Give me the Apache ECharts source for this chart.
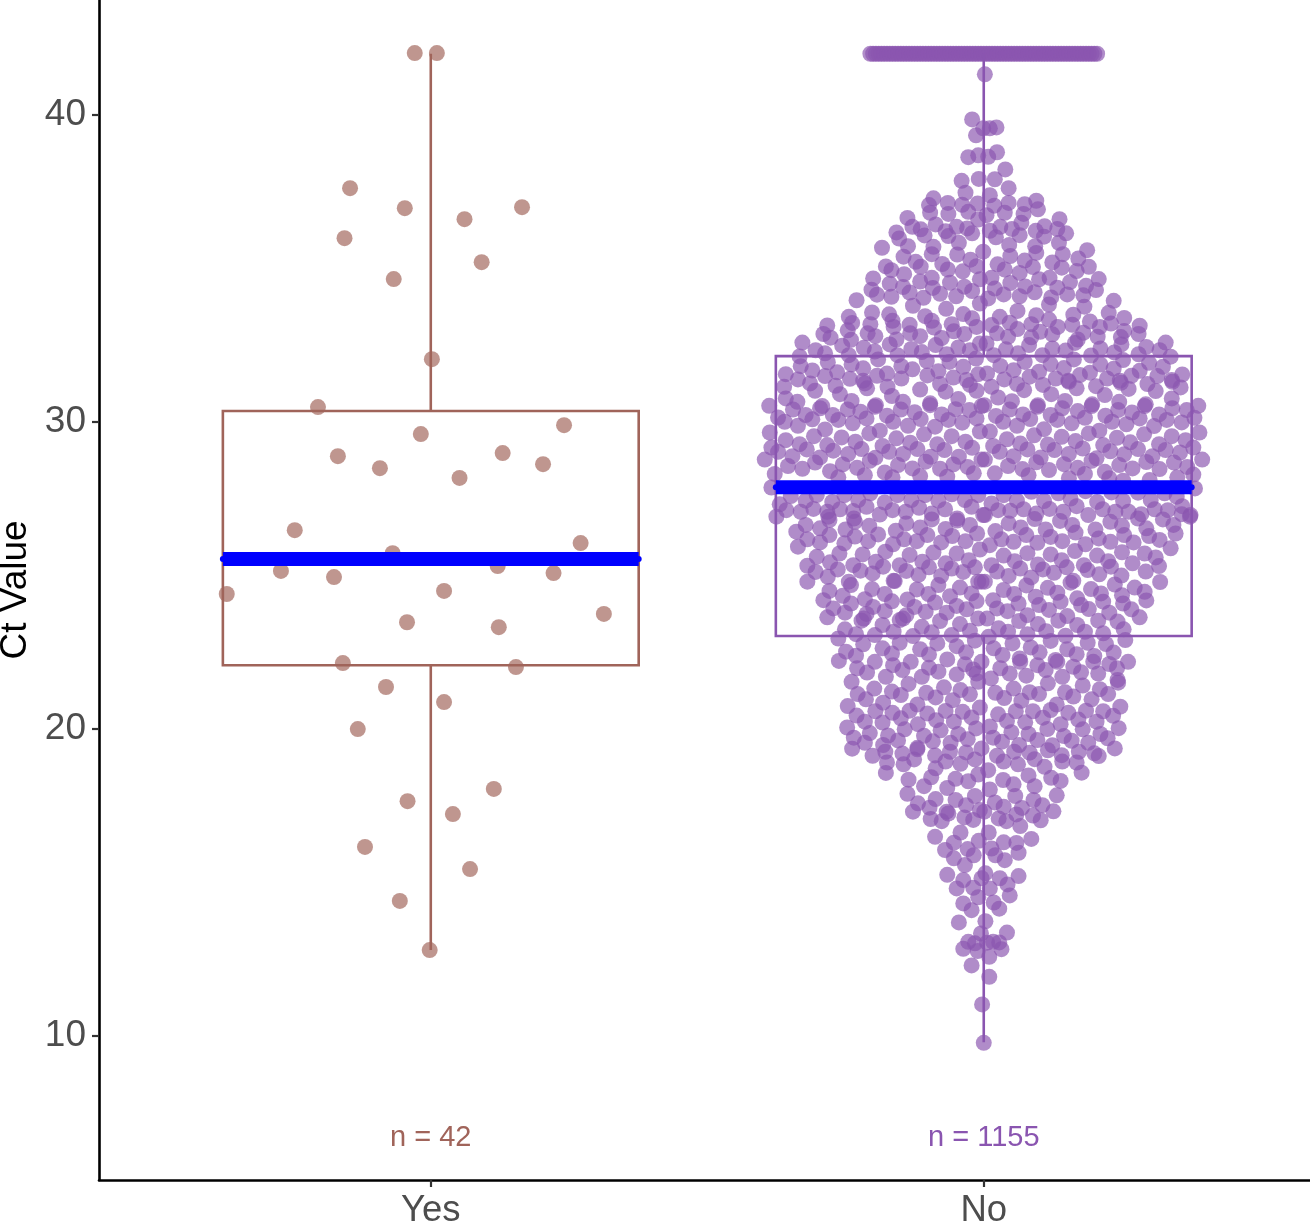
<!DOCTYPE html>
<html><head><meta charset="utf-8">
<style>html,body{margin:0;padding:0;background:#fff}#c{width:1310px;height:1223px}</style>
<script src="https://cdn.jsdelivr.net/npm/echarts@6/dist/echarts.min.js"></script>
</head><body><div id="c"></div>
<script>
const categories = ['Yes','No'];
const categoryPos = [1,2];
const nLabels = ['n = 42','n = 1155'];
const nLabelCt = 6.67;
const yTicks = [10,20,30,40];
const q1 = [22.08,23.03];
const medians = [25.54,27.88];
const q3 = [30.36,32.15];
const whiskerLow = [12.8,9.8];
const whiskerHigh = [42,42];
const yesPoints = [[.971,42.02],[1.011,42.02],[.854,37.62],[.953,36.97],[1.061,36.61],[1.165,37.0],[.844,35.99],[1.092,35.21],[.933,34.66],[1.002,32.05],[.796,30.49],[.982,29.61],[1.241,29.9],[.832,28.89],[.908,28.5],[1.13,28.99],[1.203,28.63],[1.052,28.18],[.754,26.48],[1.271,26.06],[.931,25.73],[.729,25.15],[1.121,25.31],[.825,24.95],[1.222,25.08],[.631,24.4],[1.024,24.5],[1.313,23.75],[.957,23.48],[1.123,23.32],[.841,22.15],[1.154,22.02],[.919,21.37],[1.024,20.88],[.868,20.0],[1.114,18.05],[.958,17.65],[1.04,17.23],[.881,16.16],[1.071,15.44],[.944,14.4],[.998,12.8]];
const noCappedX = [1.795,1.8,1.805,1.81,1.815,1.82,1.825,1.83,1.835,1.84,1.845,1.85,1.855,1.86,1.865,1.87,1.875,1.88,1.885,1.89,1.895,1.9,1.905,1.91,1.915,1.92,1.925,1.93,1.935,1.94,1.945,1.95,1.955,1.96,1.965,1.97,1.975,1.98,1.985,1.99,1.995,2.0,2.005,2.01,2.015,2.02,2.025,2.03,2.035,2.04,2.045,2.05,2.055,2.06,2.065,2.07,2.075,2.08,2.085,2.09,2.095,2.1,2.105,2.11,2.115,2.12,2.125,2.13,2.135,2.14,2.145,2.15,2.155,2.16,2.165,2.17,2.175,2.18,2.185,2.19,2.195,2.2,2.205];
const noTop = [[2.002,41.33],[1.979,39.86],[1.999,39.57],[2.011,39.57],[2.023,39.6],[1.986,39.34],[1.972,38.63],[1.99,38.69],[2.008,38.64],[2.024,38.79],[2.039,38.23],[1.96,37.86],[1.991,37.92],[2.02,37.91],[2.045,37.62]];
const noUpperLeft = [[1.909,37.29],[1.901,37.07],[1.903,36.82],[1.935,37.14],[1.936,36.78],[1.961,37.08],[1.972,36.85],[1.989,37.12],[1.967,37.47],[1.99,36.6],[1.862,36.65],[1.871,36.36],[1.886,36.28],[1.893,36.08],[1.913,36.44],[1.931,36.22],[1.936,36.06],[1.951,36.36],[1.97,36.31],[1.979,36.15],[1.842,36.18],[1.847,35.98],[1.863,35.73],[1.816,35.68],[1.909,35.71],[1.906,35.47],[1.955,35.84],[1.952,35.46],[1.855,35.39],[1.877,35.22],[1.886,35.06],[1.976,35.29],[1.987,35.08],[1.999,35.55],[1.823,35.07],[1.833,34.95],[1.925,35.15],[1.935,34.97],[1.962,34.91],[1.856,34.82],[1.8,34.68],[1.885,34.58],[1.906,34.7],[1.939,34.54],[1.993,34.65],[1.83,34.51],[1.854,34.4],[1.908,34.37],[1.965,34.41],[1.979,34.27],[1.797,34.31],[1.807,34.15],[1.866,34.22],[1.921,34.18],[1.95,34.1],[1.833,34.08],[1.891,34.05],[1.77,33.97],[1.872,33.79],[1.993,33.86],[1.932,33.69],[1.798,33.57],[1.829,33.51],[1.756,33.43],[1.894,33.45],[1.963,33.52],[1.979,33.38],[1.762,33.23],[1.835,33.3],[1.906,33.3],[1.795,33.19],[1.837,33.1],[1.717,33.15],[1.866,33.17],[1.942,33.19],[1.91,33.08],[1.987,33.1],[1.754,32.99],[1.71,32.87],[1.723,32.75],[1.79,32.89],[1.804,32.8],[1.867,32.89],[1.946,32.96],[1.965,32.87],[1.76,32.68],[1.885,32.8],[1.842,32.69],[1.924,32.74],[1.83,32.53],[1.672,32.59],[1.744,32.49],[1.913,32.51],[1.993,32.56],[1.783,32.42],[1.803,32.3],[1.696,32.34],[1.713,32.24],[1.869,32.38],[1.954,32.43],[1.975,32.34],[1.888,32.28],[1.667,32.14],[1.756,32.18],[1.844,32.18],[1.933,32.21],[1.809,32.04],[1.897,31.99],[1.986,32.07],[1.718,31.95],[1.761,31.88],[1.938,31.96],[1.851,31.82],[1.669,31.82],[1.69,31.68],[1.782,31.75],[1.871,31.72],[1.963,31.8],[1.735,31.62],[1.918,31.66],[1.642,31.56],[1.825,31.58],[1.807,31.51],[1.713,31.5],[1.898,31.52],[1.99,31.56],[1.664,31.39],[1.758,31.41],[1.945,31.45],[1.851,31.42],[1.782,31.35],[1.969,31.37]];
const noUpperRight = [[2.011,37.39],[2.019,37.05],[2.045,37.14],[2.038,36.82],[2.074,37.1],[2.095,37.21],[2.098,36.93],[2.072,36.78],[2.005,36.74],[2.068,36.49],[2.03,36.36],[2.051,36.29],[2.065,36.09],[2.011,36.23],[2.022,36.02],[2.137,36.61],[2.11,36.38],[2.094,36.23],[2.133,36.29],[2.149,36.15],[2.109,36.04],[2.136,35.84],[2.046,35.77],[2.093,35.73],[2.095,35.51],[2.048,35.41],[2.143,35.47],[2.187,35.6],[2.171,35.33],[2.074,35.26],[2.124,35.2],[2.025,35.14],[2.089,35.05],[2.141,35.03],[2.038,34.97],[2.19,35.06],[2.065,34.86],[2.168,34.92],[2.014,34.7],[2.119,34.7],[2.1,34.65],[2.208,34.66],[2.156,34.56],[2.048,34.53],[2.185,34.44],[2.133,34.38],[2.075,34.42],[2.203,34.3],[2.02,34.35],[2.092,34.23],[2.18,34.13],[2.151,34.16],[2.036,34.16],[2.065,34.1],[2.122,34.06],[2.008,34.03],[2.118,33.83],[2.235,33.95],[2.182,33.76],[2.061,33.62],[2.029,33.43],[2.095,33.48],[2.226,33.56],[2.254,33.39],[2.162,33.5],[2.118,33.34],[2.192,33.28],[2.047,33.24],[2.086,33.19],[2.23,33.21],[2.014,33.16],[2.16,33.17],[2.134,33.1],[2.21,33.1],[2.282,33.14],[2.061,33.03],[2.102,32.94],[2.18,32.91],[2.024,32.89],[2.254,32.97],[2.28,32.87],[2.044,32.78],[2.124,32.86],[2.206,32.78],[2.248,32.77],[2.17,32.69],[2.086,32.76],[2.249,32.53],[2.005,32.56],[2.082,32.51],[2.165,32.58],[2.329,32.59],[2.294,32.45],[2.04,32.37],[2.124,32.4],[2.211,32.4],[2.148,32.33],[2.062,32.24],[2.236,32.27],[2.318,32.34],[2.106,32.18],[2.194,32.17],[2.28,32.21],[2.338,32.13],[2.018,32.18],[2.163,32.04],[2.074,31.96],[2.252,32.02],[2.03,31.83],[2.121,31.89],[2.211,31.88],[2.299,31.93],[2.145,31.76],[2.054,31.69],[2.235,31.74],[2.324,31.8],[2.1,31.64],[2.192,31.61],[2.006,31.58],[2.282,31.67],[2.083,31.48],[2.174,31.53],[2.359,31.55],[2.037,31.39],[2.267,31.51],[2.314,31.5],[2.13,31.42],[2.223,31.42],[2.153,31.35],[2.246,31.35],[2.34,31.37]];
const noMidLeft = [[1.639,31.15],[1.686,31.26],[1.695,31.02],[1.732,31.18],[1.74,30.91],[1.785,31.26],[1.789,31.1],[1.826,31.15],[1.834,30.85],[1.885,31.06],[1.921,31.24],[1.931,30.99],[1.975,31.21],[1.987,31.02],[1.642,30.77],[1.663,30.66],[1.655,30.41],[1.708,30.52],[1.704,30.45],[1.761,30.69],[1.754,30.41],[1.805,30.55],[1.803,30.5],[1.854,30.66],[1.85,30.41],[1.903,30.55],[1.903,30.61],[1.954,30.75],[1.949,30.42],[1.996,30.52],[1.612,30.53],[1.628,30.15],[1.64,30.01],[1.678,30.23],[1.69,30.09],[1.664,29.88],[1.727,30.23],[1.737,30.07],[1.777,30.34],[1.788,30.12],[1.825,30.21],[1.836,30.01],[1.875,30.32],[1.886,30.1],[1.924,30.25],[1.936,30.07],[1.974,30.39],[1.987,30.12],[1.763,29.96],[1.863,29.88],[1.912,29.85],[1.961,29.98],[1.613,29.66],[1.713,29.76],[1.693,29.54],[1.642,29.41],[1.743,29.5],[1.793,29.63],[1.812,29.72],[1.842,29.47],[1.892,29.6],[1.942,29.54],[1.993,29.69],[1.667,29.28],[1.68,29.11],[1.717,29.25],[1.728,29.07],[1.768,29.36],[1.779,29.12],[1.817,29.22],[1.829,29.03],[1.867,29.33],[1.88,29.12],[1.916,29.28],[1.929,29.09],[1.967,29.36],[1.979,29.16],[1.616,29.17],[1.628,29.03],[1.654,28.89],[1.604,28.78],[1.646,28.57],[1.704,28.85],[1.695,28.68],[1.755,28.96],[1.745,28.62],[1.804,28.84],[1.794,28.74],[1.854,28.96],[1.845,28.6],[1.904,28.87],[1.895,28.71],[1.955,28.87],[1.945,28.62],[1.996,28.78],[1.672,28.48],[1.722,28.4],[1.771,28.51],[1.821,28.36],[1.871,28.49],[1.921,28.48],[1.971,28.54],[1.622,28.31],[1.737,28.2],[1.785,28.27],[1.835,28.2],[1.885,28.24],[1.934,28.22],[1.982,28.33],[1.616,27.87],[1.651,27.59],[1.698,27.62],[1.748,27.62],[1.795,27.68],[1.844,27.62],[1.894,27.62],[1.942,27.65],[1.99,27.62],[1.631,27.32],[1.678,27.44],[1.726,27.4],[1.773,27.46],[1.821,27.38],[1.869,27.46],[1.918,27.44],[1.966,27.46],[1.643,27.13],[1.692,27.17],[1.74,27.16],[1.788,27.24],[1.835,27.13],[1.883,27.21],[1.93,27.16],[1.978,27.24],[1.669,27.08],[1.717,27.08],[1.764,27.1],[1.812,26.99],[1.859,27.08],[1.906,27.02],[1.952,26.86],[1.999,26.97],[1.625,26.92],[1.719,26.92],[1.765,26.86]];
const noMidRight = [[2.014,31.15],[2.06,31.24],[2.073,31.04],[2.107,31.21],[2.122,30.91],[2.154,31.31],[2.168,31.1],[2.203,31.17],[2.219,30.88],[2.248,31.28],[2.262,31.08],[2.296,31.24],[2.311,31.01],[2.341,31.31],[2.356,31.13],[2.026,30.8],[2.051,30.68],[2.047,30.41],[2.001,30.55],[2.098,30.55],[2.097,30.5],[2.147,30.69],[2.142,30.45],[2.196,30.58],[2.195,30.52],[2.245,30.66],[2.243,30.39],[2.293,30.58],[2.291,30.52],[2.34,30.77],[2.341,30.45],[2.388,30.53],[2.367,30.39],[2.022,30.2],[2.035,30.01],[2.071,30.25],[2.084,30.1],[2.06,29.88],[2.121,30.23],[2.133,30.07],[2.17,30.36],[2.183,30.14],[2.159,29.96],[2.22,30.21],[2.232,30.01],[2.268,30.31],[2.282,30.12],[2.258,29.93],[2.317,30.25],[2.331,30.07],[2.308,29.87],[2.358,29.99],[2.381,30.14],[2.011,29.69],[2.109,29.77],[2.091,29.57],[2.042,29.44],[2.141,29.52],[2.19,29.63],[2.209,29.72],[2.241,29.49],[2.29,29.6],[2.34,29.54],[2.39,29.66],[2.365,29.41],[2.017,29.22],[2.029,29.03],[2.066,29.3],[2.079,29.11],[2.116,29.27],[2.128,29.09],[2.166,29.38],[2.179,29.14],[2.216,29.25],[2.229,29.05],[2.265,29.34],[2.279,29.12],[2.317,29.28],[2.329,29.09],[2.355,29.01],[2.379,29.17],[2.054,28.89],[2.044,28.57],[2.103,28.85],[2.095,28.69],[2.154,28.96],[2.145,28.63],[2.204,28.82],[2.195,28.74],[2.254,28.95],[2.245,28.6],[2.305,28.89],[2.294,28.7],[2.344,28.68],[2.395,28.78],[2.002,28.78],[2.07,28.47],[2.118,28.44],[2.17,28.51],[2.219,28.38],[2.269,28.49],[2.318,28.47],[2.368,28.54],[2.02,28.33],[2.081,28.27],[2.154,28.17],[2.183,28.31],[2.227,28.17],[2.252,28.09],[2.3,28.11],[2.35,28.2],[2.379,28.29],[2.382,27.84],[2.036,27.62],[2.086,27.73],[2.135,27.68],[2.184,27.75],[2.231,27.71],[2.279,27.7],[2.327,27.68],[2.014,27.35],[2.06,27.44],[2.109,27.43],[2.157,27.51],[2.205,27.4],[2.252,27.43],[2.302,27.46],[2.349,27.57],[2.359,27.26],[2.026,27.13],[2.048,27.11],[2.072,27.16],[2.119,27.17],[2.168,27.26],[2.215,27.16],[2.262,27.08],[2.309,27.16],[2.333,27.13],[2.374,26.97],[2.002,26.97],[2.095,27.02],[2.144,27.08],[2.189,26.97],[2.238,27.08],[2.285,27.0],[2.358,27.0]];
const noLowMidLeft = [[1.678,26.65],[1.661,26.43],[1.704,26.54],[1.721,26.81],[1.721,26.32],[1.681,26.18],[1.704,26.08],[1.664,25.94],[1.767,26.75],[1.75,26.5],[1.767,26.27],[1.793,26.62],[1.809,26.34],[1.791,26.12],[1.748,26.05],[1.739,25.72],[1.86,26.7],[1.841,26.46],[1.856,26.18],[1.885,26.57],[1.898,26.32],[1.879,26.12],[1.836,26.02],[1.822,25.78],[1.906,26.83],[1.952,26.79],[1.931,26.52],[1.943,26.29],[1.975,26.65],[1.988,26.37],[1.967,26.12],[1.923,26.08],[1.909,25.75],[1.951,25.72],[1.993,25.85],[1.866,25.67],[1.781,25.69],[1.698,25.61],[1.722,25.43],[1.681,25.32],[1.696,25.12],[1.736,25.2],[1.718,24.96],[1.681,24.8],[1.764,25.34],[1.777,25.16],[1.805,25.45],[1.818,25.29],[1.799,25.07],[1.76,24.69],[1.756,24.8],[1.848,25.34],[1.86,25.15],[1.882,25.02],[1.889,25.45],[1.901,25.27],[1.839,24.82],[1.837,24.83],[1.931,25.4],[1.942,25.23],[1.963,25.12],[1.973,25.5],[1.984,25.27],[1.923,24.99],[1.918,24.69],[1.996,24.8],[1.99,24.8],[1.721,24.5],[1.71,24.2],[1.745,24.34],[1.76,24.09],[1.749,23.79],[1.728,23.93],[1.717,23.64],[1.798,24.56],[1.785,24.23],[1.821,24.4],[1.834,24.16],[1.8,23.98],[1.821,23.84],[1.788,23.75],[1.779,23.53],[1.783,23.6],[1.879,24.55],[1.862,24.22],[1.9,24.4],[1.912,24.12],[1.875,23.98],[1.895,23.82],[1.86,23.71],[1.848,23.55],[1.854,23.6],[1.957,24.61],[1.939,24.33],[1.978,24.42],[1.987,24.17],[1.951,24.01],[1.969,23.9],[1.933,23.79],[1.921,23.52],[1.99,23.6],[1.817,23.39],[1.749,23.25],[1.737,22.95],[1.769,23.09],[1.803,23.06],[1.837,23.17],[1.888,23.33],[1.906,23.15],[1.957,23.42],[1.975,23.2],[1.872,23.03],[1.942,23.06],[1.848,22.81],[1.782,22.76],[1.916,22.79],[1.984,22.88],[1.751,22.52],[1.769,22.39],[1.817,22.63],[1.834,22.46],[1.738,22.22],[1.803,22.19],[1.885,22.6],[1.901,22.43],[1.951,22.7],[1.968,22.5],[1.868,22.19],[1.934,22.27],[1.771,21.98],[1.836,22.08],[1.901,22.0],[1.789,21.84],[1.853,21.92],[1.918,21.87],[1.966,22.11],[1.981,21.94],[1.996,22.19],[1.823,21.7],[1.888,21.7],[1.951,21.78],[1.987,21.81]];
const noLowMidRight = [[2.045,26.7],[2.067,26.57],[2.077,26.32],[2.021,26.45],[2.032,26.18],[2.054,26.1],[2.097,26.07],[2.092,26.84],[2.138,26.78],[2.112,26.5],[2.121,26.26],[2.142,26.12],[2.16,26.65],[2.166,26.4],[2.202,26.5],[2.208,26.21],[2.229,26.75],[2.25,26.62],[2.254,26.32],[2.229,26.1],[2.184,26.02],[2.165,25.8],[2.271,26.08],[2.279,26.86],[2.294,26.54],[2.299,26.29],[2.324,26.83],[2.343,26.65],[2.347,26.37],[2.318,26.16],[2.338,25.89],[2.373,26.92],[2.291,25.72],[2.311,25.59],[2.317,25.31],[2.319,24.79],[2.293,25.13],[2.269,25.4],[2.25,25.76],[2.205,25.65],[2.225,25.47],[2.23,25.29],[2.181,25.34],[2.188,25.18],[2.209,25.04],[2.249,25.0],[2.237,24.71],[2.273,24.61],[2.291,24.47],[2.294,24.19],[2.25,24.36],[2.252,24.09],[2.267,23.9],[2.282,23.64],[2.011,25.99],[2.036,25.65],[2.079,25.73],[2.121,25.69],[2.141,25.5],[2.15,25.27],[2.014,25.34],[2.024,25.13],[2.056,25.47],[2.066,25.23],[2.098,25.36],[2.107,25.2],[2.127,25.09],[2.045,24.99],[2.086,24.94],[2.077,24.68],[2.002,24.8],[2.036,24.53],[2.055,24.4],[2.063,24.09],[2.017,24.2],[2.024,23.93],[2.043,23.84],[2.094,24.31],[2.1,24.04],[2.116,24.6],[2.133,24.44],[2.139,24.15],[2.118,23.88],[2.157,24.77],[2.162,24.83],[2.194,24.56],[2.212,24.42],[2.216,24.15],[2.169,24.26],[2.176,24.04],[2.19,23.91],[2.227,23.79],[2.207,23.53],[2.242,23.5],[2.079,23.71],[2.064,23.52],[2.098,23.42],[2.151,23.68],[2.135,23.53],[2.169,23.39],[2.113,23.19],[2.148,23.04],[2.183,23.17],[2.216,23.12],[2.253,23.25],[2.256,22.9],[2.006,23.6],[2.027,23.28],[2.044,23.17],[2.079,23.09],[2.009,23.01],[2.052,22.79],[2.121,22.87],[2.188,22.81],[2.221,22.77],[2.235,22.49],[2.018,22.63],[2.034,22.41],[2.085,22.66],[2.101,22.5],[2.151,22.6],[2.168,22.44],[2.2,22.38],[2.198,22.19],[2.065,22.3],[2.066,22.19],[2.13,22.25],[2.133,22.19],[2.03,21.98],[2.047,21.81],[2.097,22.08],[2.112,21.92],[2.162,22.03],[2.176,21.85],[2.227,22.12],[2.241,21.98],[2.261,22.19],[2.207,21.81],[2.077,21.74],[2.142,21.7],[2.013,21.65],[2.242,21.6]];
const noLowerLeft = [[1.761,21.54],[1.802,21.32],[1.864,21.47],[1.834,21.22],[1.85,21.11],[1.928,21.36],[1.896,21.18],[1.913,21.03],[1.975,21.13],[1.958,21.27],[1.99,21.54],[1.772,21.14],[1.787,20.97],[1.944,20.94],[1.754,20.75],[1.818,20.86],[1.804,20.58],[1.88,20.8],[1.866,20.6],[1.835,20.53],[1.931,20.59],[1.962,20.56],[1.898,20.51],[1.993,20.7],[1.77,20.44],[1.785,20.24],[1.85,20.35],[1.914,20.29],[1.978,20.38],[1.817,20.21],[1.881,20.16],[1.946,20.24],[1.753,20.05],[1.857,19.99],[1.922,19.96],[1.986,20.02],[1.794,19.87],[1.954,19.84],[1.765,19.72],[1.827,19.79],[1.892,19.78],[1.971,19.67],[1.845,19.63],[1.908,19.6],[1.785,19.55],[1.94,19.55],[1.818,19.48],[1.762,19.36],[1.88,19.39],[1.88,19.34],[1.996,19.37],[1.822,19.26],[1.939,19.26],[1.968,19.24],[1.799,19.13],[1.853,19.2],[1.912,19.14],[1.874,19.01],[1.931,18.94],[1.984,19.01],[1.825,18.91],[1.855,18.85],[1.958,18.87],[1.913,18.72],[1.823,18.57],[1.905,18.43],[1.99,18.52],[1.864,18.35],[1.949,18.38],[1.972,18.3],[1.892,18.14],[1.934,18.08],[1.862,17.89],[1.913,17.72],[1.984,17.82],[1.949,17.69],[1.881,17.58],[1.902,17.44],[1.968,17.52],[1.872,17.31],[1.936,17.25],[1.933,17.31],[1.965,17.12],[1.904,17.07],[1.924,17.0],[1.981,17.04],[1.993,17.36],[1.958,16.63],[1.912,16.49],[1.991,16.36],[1.946,16.3],[1.93,16.06],[1.971,16.09],[1.982,15.89],[1.946,15.79]];
const noLowerRight = [[2.116,21.49],[2.243,21.51],[2.054,21.32],[2.179,21.42],[2.021,21.18],[2.037,21.01],[2.083,21.2],[2.1,21.14],[2.147,21.2],[2.162,21.06],[2.21,21.3],[2.225,21.14],[2.195,20.97],[2.068,20.92],[2.247,20.73],[2.132,20.8],[2.121,20.62],[2.089,20.58],[2.058,20.58],[2.026,20.48],[2.153,20.53],[2.185,20.6],[2.216,20.58],[2.234,20.43],[2.042,20.26],[2.107,20.37],[2.171,20.31],[2.204,20.24],[2.075,20.22],[2.139,20.16],[2.115,20.0],[2.244,20.03],[2.05,19.9],[2.179,19.99],[2.011,20.08],[2.081,19.84],[2.211,19.84],[2.017,19.72],[2.033,19.59],[2.097,19.64],[2.145,19.77],[2.159,19.62],[2.224,19.7],[2.189,19.55],[2.064,19.48],[2.124,19.47],[2.116,19.31],[2.237,19.37],[2.172,19.26],[2.055,19.26],[2.083,19.23],[2.024,19.13],[2.141,19.15],[2.2,19.21],[2.208,19.12],[2.036,18.94],[2.092,19.02],[2.062,18.85],[2.142,18.94],[2.168,18.91],[2.11,18.77],[2.177,18.58],[2.008,18.66],[2.081,18.49],[2.122,18.41],[2.139,18.31],[2.035,18.34],[2.054,18.2],[2.092,18.14],[2.011,18.03],[2.057,17.82],[2.132,17.84],[2.09,17.69],[2.02,17.61],[2.106,17.52],[2.036,17.47],[2.069,17.43],[2.001,17.31],[2.059,17.22],[2.126,17.32],[2.089,17.18],[2.103,17.03],[2.027,17.09],[2.041,17.0],[2.066,16.84],[2.009,16.63],[2.086,16.42],[2.036,16.31],[2.059,16.29],[2.014,16.11],[2.063,15.97],[2.021,15.89],[2.038,15.73]];
const noTail = [[1.966,15.57],[1.934,15.25],[1.963,15.08],[2.003,15.3],[1.996,15.14],[2.029,15.14],[2.063,15.21],[2.043,14.94],[1.951,14.81],[1.981,14.83],[2.011,14.81],[2.047,14.58],[1.99,14.52],[1.963,14.32],[2.018,14.35],[1.978,14.1],[2.028,14.15],[1.955,13.7],[2.003,13.74],[1.995,13.34],[2.042,13.37],[1.972,13.07],[1.984,13.02],[2.006,13.04],[2.017,13.07],[2.028,13.05],[1.963,12.84],[1.989,12.77],[2.01,12.58],[2.032,12.83],[1.978,12.3],[2.01,11.93],[1.997,11.03],[2.0,9.78]];

const CAP_CT = 42;
const noPoints = noCappedX.map(x=>[x,CAP_CT]).concat(noTop,noUpperLeft,noUpperRight,noMidLeft,noMidRight,noLowMidLeft,noLowMidRight,noLowerLeft,noLowerRight,noTail);
const colors = ['#A0645A','#8A55B0'];
const BOX_HALF = 0.376;
const FONT = '"Liberation Sans", Arial, sans-serif';

const chart = echarts.init(document.getElementById('c'),null,{renderer:'canvas'});
const boxData = categoryPos.map((p,i)=>[p,q1[i],medians[i],q3[i],whiskerLow[i],whiskerHigh[i],i]);
function renderBox(params,api){
  const x=api.value(0),a=api.value(1),m=api.value(2),b=api.value(3),lo=api.value(4),hi=api.value(5),i=api.value(6);
  const L=api.coord([x-BOX_HALF,a]),R=api.coord([x+BOX_HALF,b]),c1=api.coord([x,lo]),c2=api.coord([x,a]),c3=api.coord([x,b]),c4=api.coord([x,hi]);
  const mL=api.coord([x-BOX_HALF,m]),mR=api.coord([x+BOX_HALF,m]);
  const st={stroke:colors[i],lineWidth:2.6,fill:null};
  const blue={fill:'#0000FF'};
  return {type:'group',children:[
    {type:'rect',shape:{x:L[0],y:R[1],width:R[0]-L[0],height:L[1]-R[1]},style:st},
    {type:'line',shape:{x1:c1[0],y1:c1[1],x2:c2[0],y2:c2[1]},style:st},
    {type:'line',shape:{x1:c3[0],y1:c3[1],x2:c4[0],y2:c4[1]},style:st},
    {type:'line',shape:{x1:mL[0],y1:mL[1],x2:mR[0],y2:mR[1]},style:{stroke:'#0000FF',lineWidth:14,lineCap:'butt'}},
    {type:'circle',shape:{cx:mL[0],cy:mL[1],r:3},style:blue},
    {type:'circle',shape:{cx:mR[0],cy:mR[1],r:3},style:blue}
  ]};
}
chart.setOption({
  animation:false,
  backgroundColor:'#fff',
  grid:{left:99,right:0,top:0,bottom:43,containLabel:false,outerBoundsMode:'none'},
  xAxis:{type:'value',min:0.4,max:2.59,
    splitLine:{show:false},
    axisLine:{show:true,onZero:false,lineStyle:{color:'#000',width:2.6}},
    axisTick:{show:true,length:7,lineStyle:{color:'#333',width:2.2},customValues:categoryPos},
    axisLabel:{show:true,customValues:categoryPos,color:'#4d4d4d',fontSize:36.5,fontFamily:FONT,margin:12,
      formatter:v=>categories[categoryPos.indexOf(v)]}},
  yAxis:{type:'value',min:5.31,max:43.75,
    name:'Ct Value',nameLocation:'middle',nameGap:59,nameTextStyle:{color:'#000',fontSize:37,fontFamily:FONT},
    splitLine:{show:false},
    axisLine:{show:true,onZero:false,lineStyle:{color:'#000',width:2.6}},
    axisTick:{show:true,length:7,lineStyle:{color:'#333',width:2.2},customValues:yTicks},
    axisLabel:{show:true,customValues:yTicks,color:'#4d4d4d',fontSize:37,fontFamily:FONT,margin:13,padding:[10,0,0,0]}},
  series:[
    {type:'scatter',data:yesPoints,symbolSize:16,itemStyle:{color:colors[0],opacity:.68},silent:true,z:2,clip:false},
    {type:'scatter',data:noPoints,symbolSize:16,large:false,itemStyle:{color:colors[1],opacity:.68},silent:true,z:2,clip:false},
    {type:'custom',data:boxData,renderItem:renderBox,silent:true,z:3,clip:false,encode:{x:0,y:[1,2,3,4,5]}},
    {type:'scatter',data:[[categoryPos[0],nLabelCt]],symbolSize:0,silent:true,z:4,itemStyle:{opacity:1},
      label:{show:true,position:'inside',formatter:nLabels[0],color:colors[0],fontSize:29,fontFamily:FONT,opacity:1}},
    {type:'scatter',data:[[categoryPos[1],nLabelCt]],symbolSize:0,silent:true,z:4,itemStyle:{opacity:1},
      label:{show:true,position:'inside',formatter:nLabels[1],color:colors[1],fontSize:29,fontFamily:FONT,opacity:1}}
  ]
});
</script></body></html>
